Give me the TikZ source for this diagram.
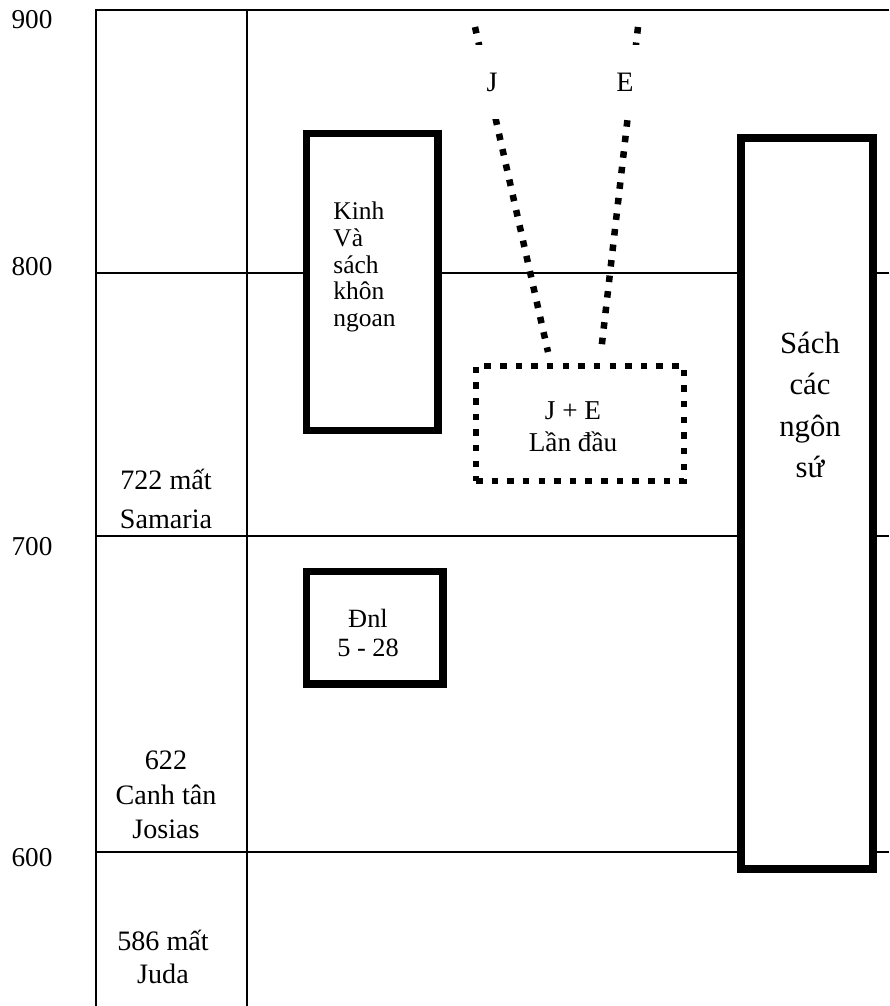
\documentclass[tikz,border=0pt]{standalone}
\usepackage{fontspec}
\setmainfont{Liberation Serif}
\usetikzlibrary{positioning}
\tikzset{
    grid_line/.style={line width=0.9pt, black},
    thick_box/.style={draw, line width=4pt, fill=white, inner sep=0pt},
    wide_box/.style={draw, line width=4.5pt, fill=white, inner sep=0pt},
    dot_box/.style={draw, line width=3.7pt, dash pattern=on 3.7pt off 5.2pt, inner sep=0pt},
    dot_line/.style={line width=3.7pt, dash pattern=on 3.7pt off 5.2pt},
    year_label/.style={font=\fontsize{15.5pt}{17pt}\selectfont},
    side_text/.style={align=center, inner sep=0pt, font=\fontsize{16pt}{19.5pt}\selectfont},
    box_text/.style={align=left, inner sep=0pt, font=\fontsize{14.5pt}{15.3pt}\selectfont},
    source_label/.style={fill=white, minimum width=0.8cm, minimum height=1.5cm, inner sep=0pt, font=\fontsize{16pt}{18pt}\selectfont}
}
\begin{document}
\begin{tikzpicture}[x=0.02cm, y=-0.02cm]
        \useasboundingbox (0,0) rectangle (889,1006);
        % time grid
        \draw[grid_line] (96,1006) -- (96,10) -- (889,10);
        \draw[grid_line] (247,10) -- (247,1006);
        \foreach \yy in {273,536,852}
            \draw[grid_line] (96,\yy) -- (889,\yy);
        \foreach \yr/\yy in {900/20, 800/267, 700/547, 600/858}
            \node[year_label] (y\yr) at (32,\yy) {\yr};
        % events
        \node[side_text, font=\fontsize{16pt}{22pt}\selectfont] (samaria) at (166,499) {722 mất\\Samaria};
        \node[side_text] (josias) at (166,795) {622\\Canh tân\\Josias};
        \node[side_text, font=\fontsize{16pt}{19pt}\selectfont] (juda) at (163,957) {586 mất\\Juda};
        % books
        \node[thick_box, minimum width=2.64cm, minimum height=5.96cm] (kinh) at (372,282) {};
        \node[box_text, anchor=west] (kinhtext) at (333,267) {Kinh\\Và\\sách\\khôn\\ngoan};
        \node[thick_box, minimum width=2.74cm, minimum height=2.26cm] (dnl) at (374.5,627.5) {};
        \node[side_text, font=\fontsize{15pt}{17pt}\selectfont] (dnltext) at (368,633) {Đnl\\5 - 28};
        \node[wide_box, minimum width=2.64cm, minimum height=14.62cm] (sach) at (807,503.5) {};
        \node[side_text, font=\fontsize{17.5pt}{23.5pt}\selectfont] (sachtext) at (810,405) {Sách\\các\\ngôn\\sứ};
        % J and E sources
        \node[dot_box, minimum width=4.16cm, minimum height=2.3cm] (je) at (580,423.5) {};
        \node[side_text, font=\fontsize{15.5pt}{18pt}\selectfont] (jetext) at (573,427) {J + E\\Lần đầu};
        \coordinate (jtop) at (475,27);
        \coordinate (etop) at (638,27);
        \coordinate (jend) at (548,352);
        \coordinate (eend) at (601,352);
        \draw[dot_line] (jtop) -- (jend);
        \draw[dot_line] (etop) -- (eend);
        \node[source_label] (j) at (492,82) {J};
        \node[source_label] (e) at (625,82) {E};
    \end{tikzpicture}
\end{document}
